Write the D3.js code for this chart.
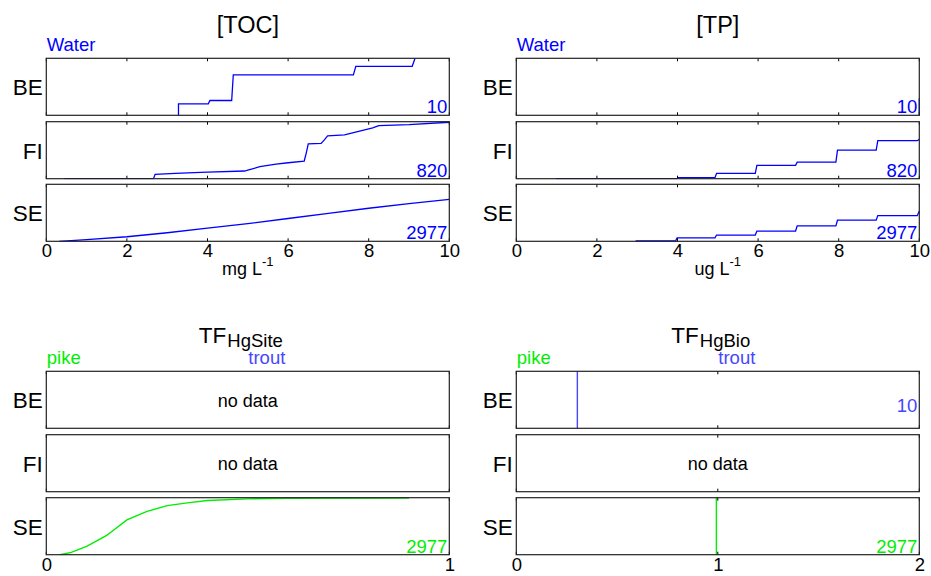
<!DOCTYPE html>
<html>
<head>
<meta charset="utf-8">
<script src="https://cdn.jsdelivr.net/npm/d3@7"></script>
<style>
  html, body { margin: 0; padding: 0; background: #fff; }
  svg { display: block; }
  text { font-family: "Liberation Sans", Arial, Helvetica, sans-serif; }
</style>
</head>
<body>
<svg id="chart" width="931" height="576"></svg>
<script>
// ---------------- DATA ----------------
const rows = ["BE", "FI", "SE"];

// [TOC] Water (mg L-1)
const tocBE_x = [3.28, 3.28, 4.02, 4.06, 4.60, 4.64, 7.62, 7.68, 9.08, 9.15];
const tocBE_y = [0, 0.20, 0.20, 0.26, 0.26, 0.71, 0.71, 0.86, 0.86, 1.0];
const tocFI_x = [0.45, 2.66, 2.70, 3.2, 4.0, 4.92, 5.0, 5.3, 5.7, 6.0, 6.40, 6.45, 6.50, 6.82, 6.90, 6.98, 7.4, 7.8, 8.1, 8.25, 9.0, 10];
const tocFI_y = [0, 0, 0.076, 0.094, 0.117, 0.135, 0.15, 0.21, 0.257, 0.28, 0.31, 0.45, 0.61, 0.62, 0.68, 0.75, 0.77, 0.84, 0.89, 0.93, 0.947, 0.99];
const tocSE_x = [0.32, 1, 2, 3, 4, 5, 6, 7, 8, 9, 10];
const tocSE_y = [0, 0.03, 0.08, 0.15, 0.23, 0.31, 0.40, 0.49, 0.58, 0.66, 0.735];

// [TP] Water (ug L-1)
const tpBE_x = [10, 10];
const tpBE_y = [0, 0.30];
const tpFI_x = [0.98, 3.98, 4.02, 4.93, 4.97, 5.93, 5.97, 6.93, 6.97, 7.93, 7.97, 8.93, 8.97, 9.95, 10];
const tpFI_y = [0, 0, 0.018, 0.018, 0.094, 0.094, 0.234, 0.234, 0.29, 0.29, 0.50, 0.50, 0.667, 0.667, 0.69];
const tpSE_x = [2.96, 3.95, 3.99, 4.93, 4.97, 5.93, 5.97, 6.93, 6.97, 7.93, 7.97, 8.93, 8.97, 9.95, 10];
const tpSE_y = [0.005, 0.005, 0.059, 0.059, 0.11, 0.11, 0.18, 0.18, 0.27, 0.27, 0.37, 0.37, 0.45, 0.45, 0.53];

// TF HgSite (pike, SE only)
const siteSE_pike_x = [0.034, 0.062, 0.10, 0.15, 0.165, 0.20, 0.25, 0.30, 0.35, 0.40, 0.50, 0.60, 0.90];
const siteSE_pike_y = [0, 0.04, 0.147, 0.34, 0.42, 0.61, 0.76, 0.86, 0.91, 0.95, 0.98, 0.99, 0.995];

// TF HgBio
const bioBE_trout_x = [0.303, 0.303];
const bioBE_trout_y = [0, 1];
const bioSE_pike_x = [0.993, 0.993];
const bioSE_pike_y = [0, 1];

const ticksTop = [0, 2, 4, 6, 8, 10];
const ticksSite = [0, 1];
const ticksBio = [0, 1, 2];

// ---------------- STYLE / LAYOUT ----------------
const BLUE = "#0000ff", TROUT = "#4646ff", GREEN = "#00ee00";
const colX = [46.3, 516.3], panelW = 403;
const rowYTop = [58.3, 121.7, 184.3], rowYBot = [371.3, 434.7, 497.7], panelH = 57;

const svg = d3.select("#chart");
svg.append("rect").attr("width", 931).attr("height", 576).attr("fill", "#fff");
const defs = svg.append("defs");
let clipId = 0;

function panel(x0, y0, domain, ticks, opts) {
  const x = d3.scaleLinear().domain(domain).range([x0, x0 + panelW]);
  const y = d3.scaleLinear().domain([0, 1]).range([y0 + panelH, y0]);
  const id = "clip" + (clipId++);
  defs.append("clipPath").attr("id", id).append("rect")
    .attr("x", x0).attr("y", y0 - 0.5).attr("width", panelW + 0.5).attr("height", panelH + 1);
  const g = svg.append("g");
  (opts.series || []).forEach(s => {
    const pts = s.x.map((v, i) => [v, s.y[i]]);
    g.append("path").attr("clip-path", `url(#${id})`)
      .attr("d", d3.line().x(d => x(d[0])).y(d => y(d[1]))(pts))
      .attr("fill", "none").attr("stroke", s.color).attr("stroke-width", s.w || 1.3);
  });
  ticks.forEach(t => {
    g.append("line").attr("x1", x(t)).attr("x2", x(t)).attr("y1", y0).attr("y2", y0 + 3)
      .attr("stroke", "#000").attr("stroke-width", 1);
    g.append("line").attr("x1", x(t)).attr("x2", x(t)).attr("y1", y0 + panelH).attr("y2", y0 + panelH - 3)
      .attr("stroke", "#000").attr("stroke-width", 1);
  });
  g.append("rect").attr("x", x0).attr("y", y0).attr("width", panelW).attr("height", panelH)
    .attr("fill", "none").attr("stroke", "#222").attr("stroke-width", 1.2);
  g.append("text").attr("x", x0 - 3.5).attr("y", y0 + panelH / 2 + 8.5)
    .attr("text-anchor", "end").attr("font-size", 22.5).attr("fill", "#000").text(opts.row);
  if (opts.nodata) {
    g.append("text").attr("x", x0 + panelW / 2).attr("y", y0 + panelH / 2 + 7)
      .attr("text-anchor", "middle").attr("font-size", 18).attr("fill", "#000").text("no data");
  }
  (opts.counts || []).forEach(c => {
    g.append("text").attr("x", x0 + panelW - 2).attr("y", y0 + panelH - c.dy)
      .attr("text-anchor", "end").attr("font-size", 18.5).attr("fill", c.color).text(c.text);
  });
  if (opts.tickLabels) {
    const ax = d3.axisBottom(x).tickValues(ticks).tickFormat(d3.format("d")).tickSize(0).tickPadding(0);
    const ag = svg.append("g").attr("transform", `translate(0,${y0 + panelH})`).call(ax);
    ag.select(".domain").remove();
    ag.selectAll("text").attr("font-size", 18.5).attr("fill", "#000")
      .attr("dy", null).attr("y", 16)
      .style("font-family", "'Liberation Sans', Arial, sans-serif");
  }
  return x;
}

// ---------------- TOP: [TOC], [TP] ----------------
const tocData = [[tocBE_x, tocBE_y, "10"], [tocFI_x, tocFI_y, "820"], [tocSE_x, tocSE_y, "2977"]];
const tpData = [[tpBE_x, tpBE_y, "10"], [tpFI_x, tpFI_y, "820"], [tpSE_x, tpSE_y, "2977"]];
[[tocData, 0], [tpData, 1]].forEach(([data, c]) => {
  rows.forEach((r, i) => {
    panel(colX[c], rowYTop[i], [0, 10], ticksTop, {
      row: r,
      series: [{ x: data[i][0], y: data[i][1], color: BLUE, w: 1.3 }],
      counts: [{ text: data[i][2], color: BLUE, dy: 2 }],
      tickLabels: i === 2
    });
  });
});

[["[TOC]", 0, "mg L"], ["[TP]", 1, "ug L"]].forEach(([t, c, u]) => {
  const cx = colX[c] + panelW / 2;
  svg.append("text").attr("x", cx).attr("y", 33.3).attr("text-anchor", "middle")
    .attr("font-size", 23.5).attr("fill", "#000").text(t);
  svg.append("text").attr("x", colX[c] + 0.5).attr("y", 50.7).attr("font-size", 18.5)
    .attr("fill", BLUE).text("Water");
  const xl = svg.append("text").attr("x", cx).attr("y", 275).attr("text-anchor", "middle")
    .attr("font-size", 18).attr("fill", "#000");
  xl.append("tspan").text(u);
  xl.append("tspan").attr("font-size", 13).attr("dy", -9).text("-1");
});

// ---------------- BOTTOM: TF ----------------
rows.forEach((r, i) => {
  const opts = { row: r, tickLabels: i === 2 };
  if (i < 2) opts.nodata = true;
  else {
    opts.series = [{ x: siteSE_pike_x, y: siteSE_pike_y, color: GREEN, w: 1.4 }];
    opts.counts = [{ text: "2977", color: GREEN, dy: 2 }];
  }
  panel(colX[0], rowYBot[i], [0, 1], ticksSite, opts);
});
rows.forEach((r, i) => {
  const opts = { row: r, tickLabels: i === 2 };
  if (i === 0) {
    opts.series = [{ x: bioBE_trout_x, y: bioBE_trout_y, color: TROUT, w: 1.4 }];
    opts.counts = [{ text: "10", color: TROUT, dy: 16.6 }];
  } else if (i === 1) {
    opts.nodata = true;
  } else {
    opts.series = [{ x: bioSE_pike_x, y: bioSE_pike_y, color: GREEN, w: 1.4 }];
    opts.counts = [{ text: "2977", color: GREEN, dy: 2 }];
  }
  panel(colX[1], rowYBot[i], [0, 2], ticksBio, opts);
});

[["HgSite", 0], ["HgBio", 1]].forEach(([sub, c]) => {
  const cx = colX[c] + panelW / 2 - 7;
  const t = svg.append("text").attr("x", cx).attr("y", 342.5).attr("text-anchor", "middle")
    .attr("fill", "#000").attr("font-size", 22.5);
  t.append("tspan").text("TF");
  t.append("tspan").attr("font-size", 18.5).attr("dy", 4.5).attr("dx", 1).text(sub);
  svg.append("text").attr("x", colX[c] + 0.5).attr("y", 363.5).attr("font-size", 18.5)
    .attr("fill", GREEN).text("pike");
  svg.append("text").attr("x", colX[c] + panelW / 2 + 0.5).attr("y", 363.5).attr("font-size", 18.5)
    .attr("fill", TROUT).text("trout");
});
</script>
</body>
</html>
